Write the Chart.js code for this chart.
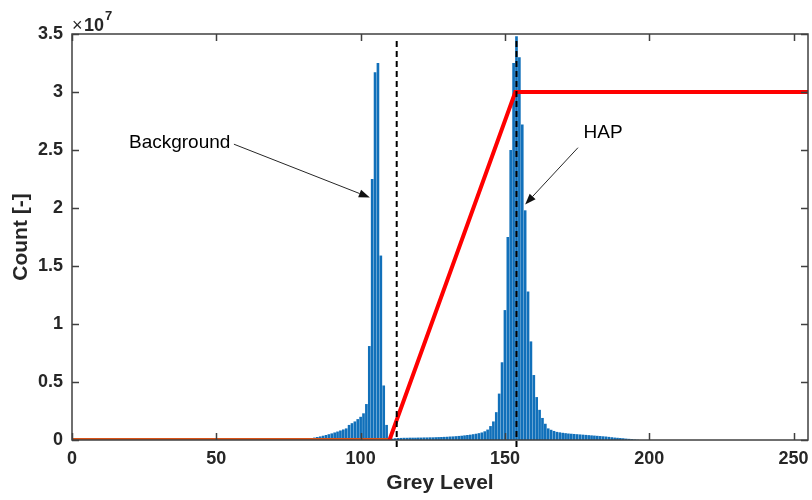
<!DOCTYPE html>
<html lang="en">
<head>
<meta charset="UTF-8">
<title>Grey level histogram</title>
<style>
  html, body { margin: 0; padding: 0; background: #fff; }
  canvas { display: block; }
</style>
</head>
<body>
<canvas id="myChart" width="812" height="500"></canvas>
<script src="https://cdn.jsdelivr.net/npm/chart.js"></script>
<script>
// histogram counts, in units of 10^7, one per grey level starting at histStart
const histStart = 80;
const counts = [
  0.005, 0.008, 0.012, 0.016, 0.021, 0.026, 0.031, 0.037, 0.043, 0.05,   // 80-89
  0.057, 0.065, 0.073, 0.082, 0.091, 0.10, 0.13, 0.145, 0.16, 0.18,      // 90-99
  0.20, 0.23, 0.31, 0.81, 2.25, 3.17, 3.25, 1.59, 0.47, 0.13,            // 100-109
  0.01, 0.012, 0.015, 0.017, 0.018, 0.019, 0.019, 0.02, 0.02, 0.02,      // 110-119
  0.021, 0.021, 0.022, 0.022, 0.023, 0.023, 0.024, 0.025, 0.026, 0.027,  // 120-129
  0.028, 0.03, 0.031, 0.033, 0.035, 0.037, 0.04, 0.043, 0.046, 0.05,     // 130-139
  0.054, 0.059, 0.065, 0.075, 0.09, 0.12, 0.16, 0.24, 0.40, 0.67,        // 140-149
  1.12, 1.75, 2.5, 3.25, 3.48, 3.30, 2.72, 1.98, 1.28, 0.85,             // 150-159
  0.56, 0.37, 0.26, 0.19, 0.14, 0.10, 0.088, 0.078, 0.07, 0.066,         // 160-169
  0.062, 0.059, 0.056, 0.054, 0.052, 0.05, 0.048, 0.046, 0.044, 0.042,   // 170-179
  0.04, 0.038, 0.036, 0.034, 0.032, 0.03, 0.027, 0.024, 0.021, 0.019,    // 180-189
  0.017, 0.015, 0.012, 0.01, 0.007, 0.004, 0.002                         // 190-196
];

// red mapping ramp
const rampX = [0, 110, 153.6, 255];
const rampY = [0, 0, 3, 3];

// dashed threshold lines
const thresholds = [112.5, 154];

const xTicks = [0, 50, 100, 150, 200, 250];
const yTicks = [0, 0.5, 1, 1.5, 2, 2.5, 3, 3.5];

const notes = [
  { text: 'Background', tx: 37.3, ty: 2.56, fx: 56.1, fy: 2.55, hx: 103.2, hy: 2.09 },
  { text: 'HAP', tx: 184, ty: 2.65, fx: 175.3, fy: 2.52, hx: 157.0, hy: 2.03 }
];

const FONT = '"Liberation Sans", Arial, Helvetica, sans-serif';
const INK = '#262626';

const histData = counts.map((c, i) => ({ x: histStart + i, y: c }));
const rampData = rampX.map((v, i) => ({ x: v, y: rampY[i] }));

const thresholdSets = thresholds.map(t => ({
  type: 'line',
  data: [{ x: t, y: -0.06 }, { x: t, y: 3.45 }],
  borderColor: '#000',
  borderWidth: 2,
  borderDash: [6, 4],
  pointRadius: 0,
  clip: false
}));

const frame = {
  id: 'frame',
  afterDraw(chart) {
    const { ctx, chartArea: a, scales: { x, y } } = chart;
    ctx.save();
    ctx.strokeStyle = '#404040';
    ctx.lineWidth = 1.5;
    ctx.strokeRect(a.left, a.top, a.right - a.left, a.bottom - a.top);

    // ticks point inward, on all four sides
    ctx.beginPath();
    xTicks.forEach(v => {
      const px = Math.round(x.getPixelForValue(v)) + 0.5;
      ctx.moveTo(px, a.bottom); ctx.lineTo(px, a.bottom - 7);
      ctx.moveTo(px, a.top); ctx.lineTo(px, a.top + 7);
    });
    yTicks.forEach(v => {
      const py = Math.round(y.getPixelForValue(v)) + 0.5;
      ctx.moveTo(a.left, py); ctx.lineTo(a.left + 7, py);
      ctx.moveTo(a.right, py); ctx.lineTo(a.right - 7, py);
    });
    ctx.stroke();

    // x10^7 exponent
    ctx.fillStyle = INK;
    ctx.textBaseline = 'alphabetic';
    ctx.textAlign = 'left';
    ctx.font = '18px ' + FONT;
    ctx.fillText('\u00d7', a.left, a.top - 3);
    ctx.font = 'bold 18px ' + FONT;
    ctx.fillText('10', a.left + 12, a.top - 3);
    ctx.font = 'bold 13px ' + FONT;
    ctx.fillText('7', a.left + 33, a.top - 14);

    // labels with arrows
    ctx.font = '19px ' + FONT;
    ctx.textAlign = 'center';
    ctx.textBaseline = 'middle';
    ctx.strokeStyle = INK;
    ctx.lineWidth = 1;
    notes.forEach(n => {
      ctx.fillStyle = '#000';
      ctx.fillText(n.text, x.getPixelForValue(n.tx), y.getPixelForValue(n.ty));
      const x0 = x.getPixelForValue(n.fx), y0 = y.getPixelForValue(n.fy);
      const x1 = x.getPixelForValue(n.hx), y1 = y.getPixelForValue(n.hy);
      const ang = Math.atan2(y1 - y0, x1 - x0);
      const len = 11, half = 4;
      const bx = x1 - len * Math.cos(ang), by = y1 - len * Math.sin(ang);
      ctx.beginPath();
      ctx.moveTo(x0, y0); ctx.lineTo(bx, by);
      ctx.stroke();
      ctx.beginPath();
      ctx.moveTo(x1, y1);
      ctx.lineTo(bx + half * Math.sin(ang), by - half * Math.cos(ang));
      ctx.lineTo(bx - half * Math.sin(ang), by + half * Math.cos(ang));
      ctx.closePath();
      ctx.fillStyle = '#111';
      ctx.fill();
    });
    ctx.restore();
  }
};

new Chart(document.getElementById('myChart'), {
  type: 'bar',
  data: {
    datasets: [
      ...thresholdSets,
      {
        type: 'line',
        data: rampData,
        borderColor: '#ff0000',
        borderWidth: 4,
        pointRadius: 0,
        tension: 0,
        segment: {
          borderColor: c => (c.p0.parsed.y === 0 && c.p1.parsed.y === 0 ? '#D95319' : undefined)
        }
      },
      {
        type: 'bar',
        data: histData,
        backgroundColor: '#1170BA',
        borderWidth: 0,
        barPercentage: 0.92,
        categoryPercentage: 1
      }
    ]
  },
  options: {
    responsive: false,
    animation: false,
    devicePixelRatio: 1,
    layout: { padding: { top: 34, right: 4, left: 0, bottom: 0 } },
    plugins: {
      legend: { display: false },
      tooltip: { enabled: false }
    },
    scales: {
      x: {
        type: 'linear',
        min: 0,
        max: 255,
        offset: false,
        grid: { display: false, drawTicks: false, offset: false },
        border: { display: false },
        afterBuildTicks: s => { s.ticks = xTicks.map(v => ({ value: v })); },
        afterFit: s => { s.height = 60; s.paddingLeft = 0; s.paddingRight = 0; },
        ticks: {
          padding: 8,
          color: INK,
          font: { family: FONT, size: 18, weight: 'bold' }
        },
        title: {
          display: true,
          text: 'Grey Level',
          color: INK,
          padding: { top: 2, bottom: 4 },
          font: { family: FONT, size: 21, weight: 'bold' }
        }
      },
      y: {
        min: 0,
        max: 3.5,
        grid: { display: false, drawTicks: false },
        border: { display: false },
        afterBuildTicks: s => { s.ticks = yTicks.map(v => ({ value: v })); },
        afterFit: s => { s.width = 72; },
        ticks: {
          padding: 9,
          color: INK,
          font: { family: FONT, size: 18, weight: 'bold' },
          callback: v => String(v)
        },
        title: {
          display: true,
          text: 'Count [-]',
          color: INK,
          padding: { top: 9, bottom: 0 },
          font: { family: FONT, size: 21, weight: 'bold' }
        }
      }
    }
  },
  plugins: [frame]
});
</script>
</body>
</html>
